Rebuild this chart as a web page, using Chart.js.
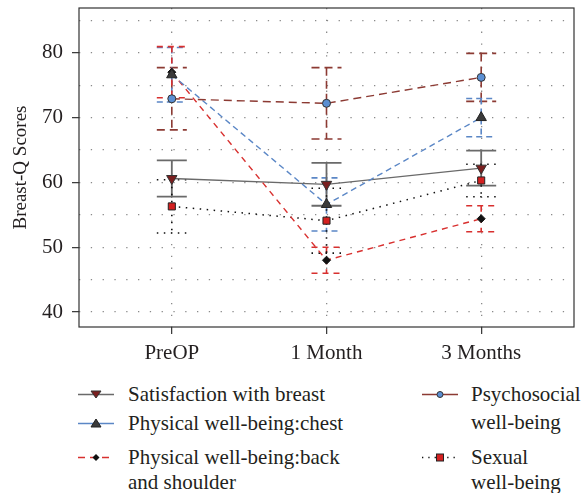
<!DOCTYPE html>
<html>
<head>
<meta charset="utf-8">
<script src="https://cdn.jsdelivr.net/npm/chart.js@4.4.1/dist/chart.umd.min.js"></script>
<style>
  body { margin: 0; background: #fff; }
  #wrap { position: relative; width: 581px; height: 493px; font-family: "Liberation Serif", "DejaVu Serif", serif; color: #231f20; }
  #chart { position: absolute; left: 0; top: 0; }
  .lg-line { position: absolute; font-size: 21px; line-height: 24px; white-space: nowrap; }
  .lg-icon { position: absolute; }
</style>
</head>
<body>
<div id="wrap">
  <canvas id="chart" width="581" height="370"></canvas>
  <div id="legend"></div>
</div>
<script>
// data
const categories = ['PreOP', '1 Month', '3 Months'];
const xPos = [0, 1, 2];
const yTicks = [40, 45, 50, 55, 60, 65, 70, 75, 80, 85];

const satisfaction = [60.6, 59.7, 62.2];
const satisfactionErr = [2.8, 3.3, 2.7];

const chest = [76.6, 56.6, 70.0];
const chestErr = [4.2, 4.1, 2.95];

const backShoulder = [77.0, 48.0, 54.4];
const backShoulderErr = [3.95, 2.0, 2.0];

const psychosocial = [72.9, 72.2, 76.2];
const psychosocialErr = [4.8, 5.5, 3.7];

const sexual = [56.3, 54.1, 60.3];
const sexualErr = [4.1, 5.0, 2.5];

const FONT = '"Liberation Serif", "DejaVu Serif", serif';
const TEXT = '#231f20';

function pts(vals) {
  return vals.map((v, i) => ({ x: xPos[i], y: v }));
}

const datasets = [
  {
    label: 'Psychosocial well-being',
    data: pts(psychosocial), errors: psychosocialErr,
    borderColor: '#8c3a33', borderWidth: 1.4, borderDash: [8, 5],
    pointStyle: 'circle', pointRadius: 4, pointBackgroundColor: '#5b8fd3', pointBorderColor: '#333', pointBorderWidth: 1
  },
  {
    label: 'Physical well-being:chest',
    data: pts(chest), errors: chestErr,
    borderColor: '#5b87c6', borderWidth: 1.4, borderDash: [6, 4],
    pointStyle: 'triangle', pointRadius: 6, pointBackgroundColor: '#3a3a3a', pointBorderColor: '#222', pointBorderWidth: 1
  },
  {
    label: 'Physical well-being:back and shoulder',
    data: pts(backShoulder), errors: backShoulderErr,
    borderColor: '#d8302f', borderWidth: 1.4, borderDash: [6, 5],
    pointStyle: 'rectRot', pointRadius: 4, pointBackgroundColor: '#111', pointBorderColor: '#111', pointBorderWidth: 1
  },
  {
    label: 'Satisfaction with breast',
    data: pts(satisfaction), errors: satisfactionErr,
    borderColor: '#6a6a6a', borderWidth: 1.3, borderDash: [],
    pointStyle: 'triangle', pointRotation: 180, pointRadius: 6, pointBackgroundColor: '#7a1f1f', pointBorderColor: '#333', pointBorderWidth: 1
  },
  {
    label: 'Sexual well-being',
    data: pts(sexual), errors: sexualErr,
    borderColor: '#111', borderWidth: 1.5, borderDash: [1.5, 5.5],
    pointStyle: 'rect', pointRadius: 5, pointBackgroundColor: '#d42020', pointBorderColor: '#222', pointBorderWidth: 1
  }
];

// error bars + box frame
const errorBars = {
  id: 'errorBars',
  beforeDatasetsDraw(chart) {
    const { ctx, scales: { x, y } } = chart;
    chart.data.datasets.forEach(ds => {
      ds.data.forEach((p, j) => {
        const e = ds.errors[j];
        const px = x.getPixelForValue(p.x);
        const t = y.getPixelForValue(p.y + e);
        const b = y.getPixelForValue(p.y - e);
        ctx.save();
        ctx.strokeStyle = ds.borderColor;
        ctx.lineWidth = ds.borderDash.length ? 1.6 : 1.8;
        ctx.setLineDash(ds.borderDash);
        ctx.beginPath();
        ctx.moveTo(px, t); ctx.lineTo(px, b);
        ctx.moveTo(px - 15, t); ctx.lineTo(px + 15, t);
        ctx.moveTo(px - 15, b); ctx.lineTo(px + 15, b);
        ctx.stroke();
        ctx.restore();
      });
    });
  },
  afterDraw(chart) {
    const { ctx, chartArea: a } = chart;
    ctx.save();
    ctx.strokeStyle = '#333';
    ctx.lineWidth = 1.2;
    ctx.strokeRect(a.left, a.top, a.right - a.left, a.bottom - a.top);
    ctx.restore();
  }
};

function noPad(s) {
  s.paddingTop = 0; s.paddingBottom = 0; s.paddingLeft = 0; s.paddingRight = 0;
}

new Chart(document.getElementById('chart'), {
  type: 'line',
  data: { datasets: datasets },
  options: {
    responsive: false,
    animation: false,
    layout: { padding: { top: 8, right: 3, left: 0, bottom: 0 } },
    plugins: { legend: { display: false }, tooltip: { enabled: false } },
    elements: { line: { tension: 0 } },
    scales: {
      x: {
        type: 'linear', min: -0.6, max: 2.6,
        afterBuildTicks: s => { s.ticks = xPos.map(v => ({ value: v })); },
        afterFit: s => { s.height = 43; noPad(s); },
        ticks: { callback: v => categories[v], font: { family: FONT, size: 21 }, color: TEXT, padding: 7, maxRotation: 0 },
        grid: { color: '#8a8a8a', lineWidth: 1.3, tickLength: 7, tickColor: '#333', tickWidth: 1.2, tickBorderDash: [] },
        border: { display: false, dash: [1.3, 10.5] }
      },
      y: {
        min: 37.7, max: 86.9,
        afterBuildTicks: s => { s.ticks = yTicks.map(v => ({ value: v })); },
        afterFit: s => { s.width = 79; noPad(s); },
        ticks: { callback: v => (v % 10 === 0 ? v : ''), font: { family: FONT, size: 21 }, color: TEXT, padding: 9 },
        grid: {
          color: '#8a8a8a', lineWidth: 1.3, tickLength: 7, tickWidth: 1.2, tickBorderDash: [],
          tickColor: c => (c.tick && c.tick.value % 10 === 0 ? '#333' : 'rgba(0,0,0,0)')
        },
        border: { display: false, dash: [1.3, 10.5] },
        title: { display: true, text: 'Breast-Q Scores', font: { family: FONT, size: 19 }, color: TEXT, padding: { top: 10, bottom: 0 } }
      }
    }
  },
  plugins: [errorBars]
});

// legend (HTML, positions are layout only)
const legendItems = [
  { ds: 3, icon: [78, 394], text: [[128, 394, 'Satisfaction with breast']] },
  { ds: 1, icon: [78, 423], text: [[128, 423, 'Physical well-being:chest']] },
  { ds: 2, icon: [78, 457], text: [[128, 457, 'Physical well-being:back'], [128, 482, 'and shoulder']] },
  { ds: 0, icon: [422, 394], text: [[471, 394, 'Psychosocial'], [471, 422, 'well-being']] },
  { ds: 4, icon: [422, 457], text: [[471, 457, 'Sexual'], [471, 482, 'well-being']] }
];

function markerSvg(ds) {
  const f = ds.pointBackgroundColor, s = ds.pointBorderColor;
  switch (ds.label) {
    case 'Satisfaction with breast': return `<polygon points="13,5 23,5 18,12" fill="${f}" stroke="${s}" stroke-width="1"/>`;
    case 'Physical well-being:chest': return `<polygon points="13,12 23,12 18,4" fill="${f}" stroke="${s}" stroke-width="1"/>`;
    case 'Physical well-being:back and shoulder': return `<polygon points="18,5 21.5,8.5 18,12 14.5,8.5" fill="${f}"/>`;
    case 'Psychosocial well-being': return `<circle cx="18" cy="8.5" r="3" fill="${f}" stroke="${s}" stroke-width="1"/>`;
    default: return `<rect x="14.5" y="5" width="7" height="7" fill="${f}" stroke="${s}" stroke-width="1"/>`;
  }
}

const legendEl = document.getElementById('legend');
legendItems.forEach(it => {
  const ds = datasets[it.ds];
  let dash = '';
  if (ds.label === 'Physical well-being:back and shoulder') dash = 'stroke-dasharray="7,5"';
  if (ds.label === 'Sexual well-being') dash = 'stroke-dasharray="1.3,5"';
  const icon = document.createElement('div');
  icon.className = 'lg-icon';
  icon.style.left = it.icon[0] + 'px';
  icon.style.top = (it.icon[1] - 8.5) + 'px';
  icon.innerHTML = `<svg width="36" height="17"><line x1="0" y1="8.5" x2="36" y2="8.5" stroke="${ds.borderColor}" stroke-width="1.4" ${dash}/>${markerSvg(ds)}</svg>`;
  legendEl.appendChild(icon);
  it.text.forEach(t => {
    const d = document.createElement('div');
    d.className = 'lg-line';
    d.style.left = t[0] + 'px';
    d.style.top = (t[1] - 12) + 'px';
    d.textContent = t[2];
    legendEl.appendChild(d);
  });
});
</script>
</body>
</html>
